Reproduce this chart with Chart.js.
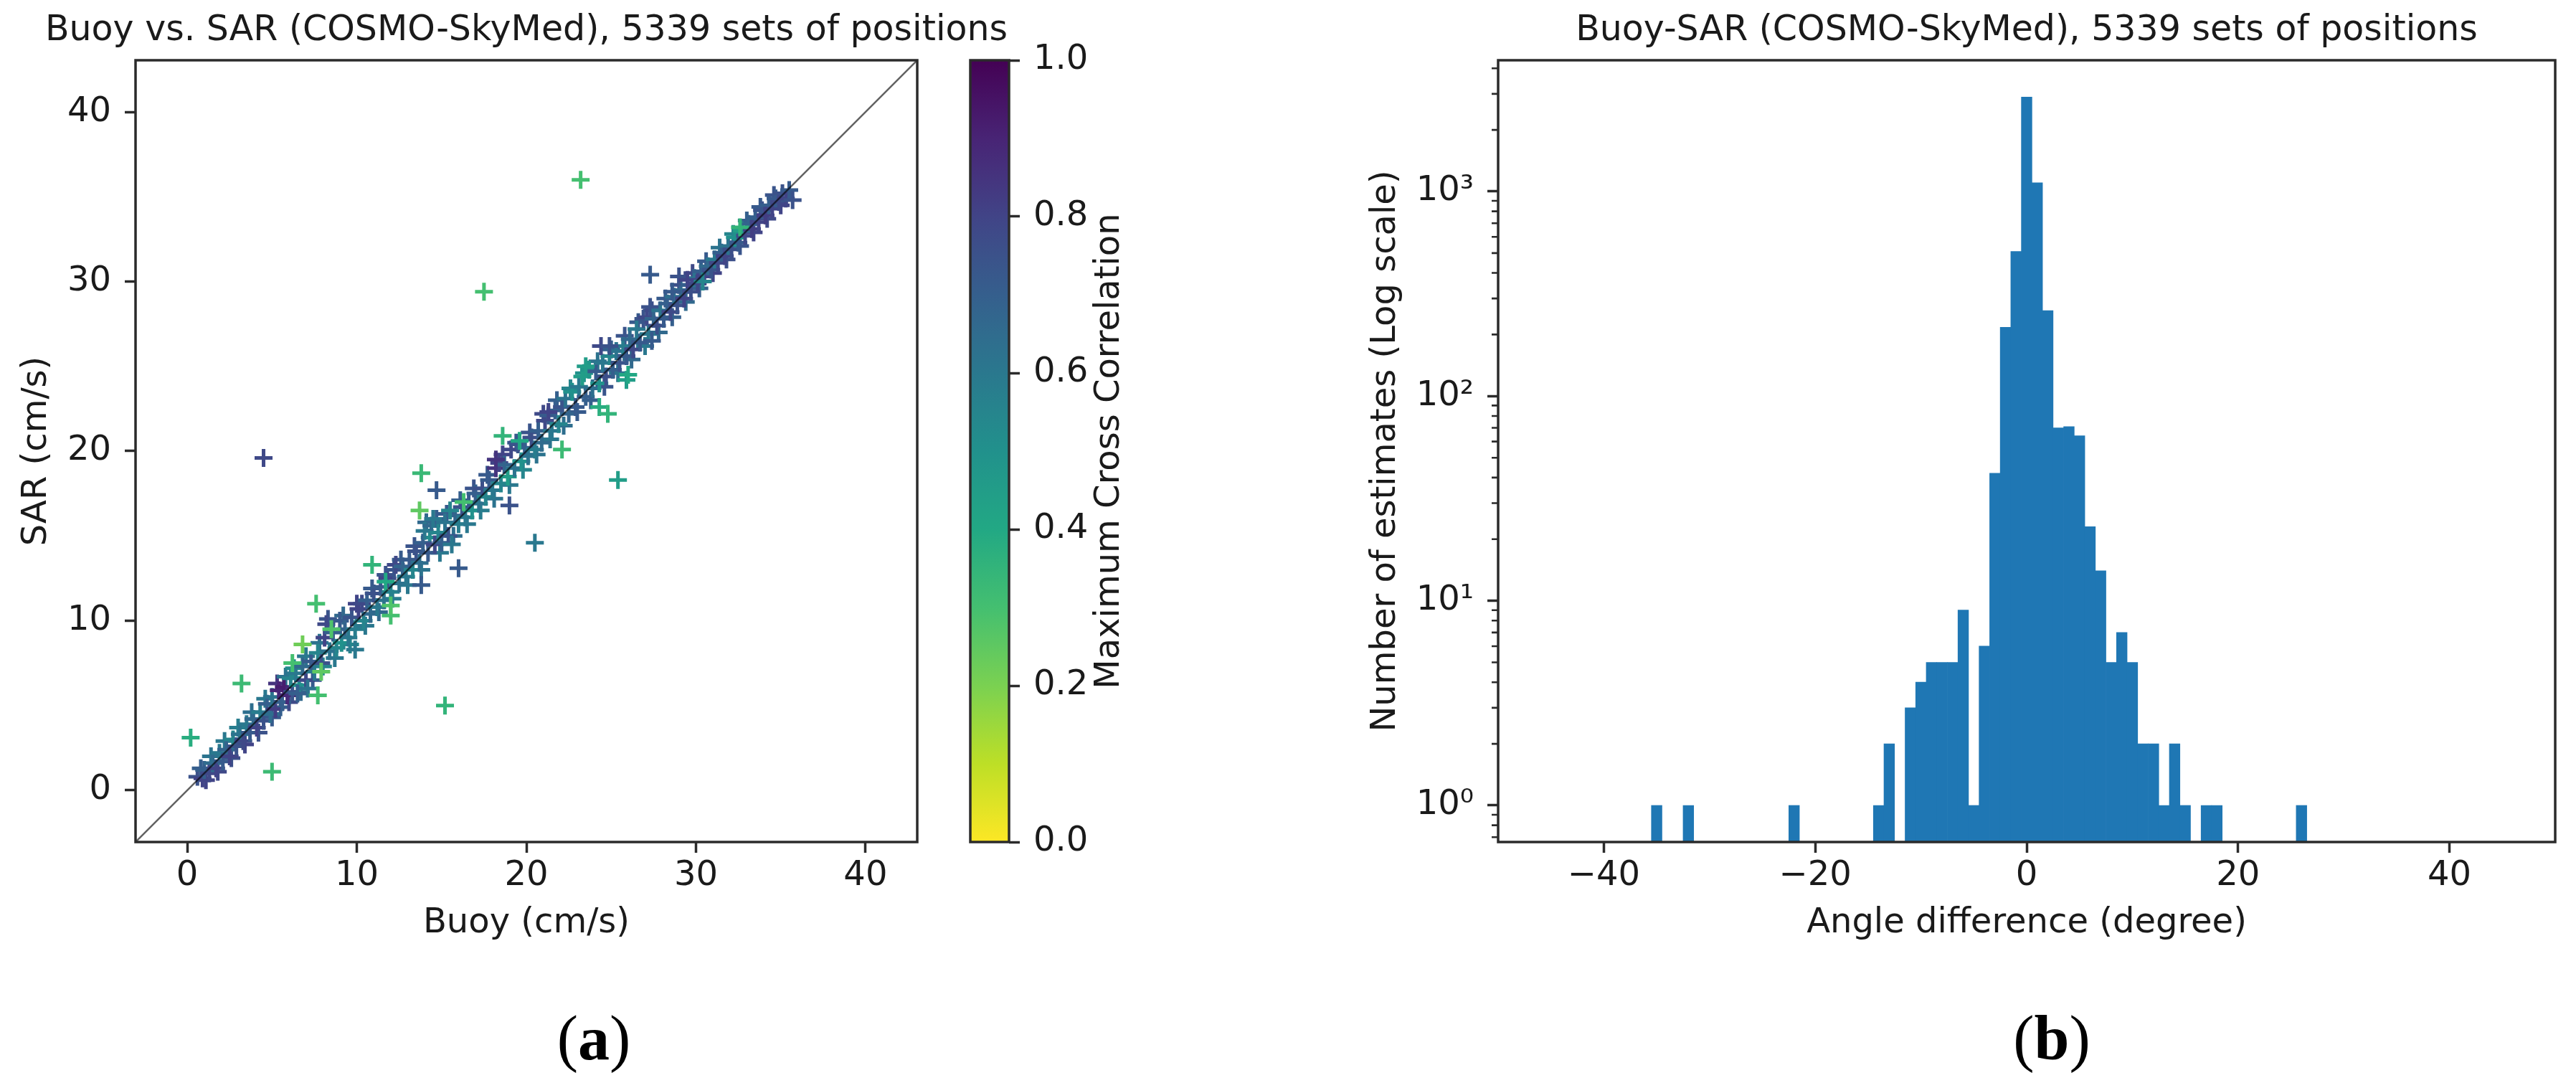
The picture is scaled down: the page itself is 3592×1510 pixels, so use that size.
<!DOCTYPE html>
<html><head><meta charset="utf-8">
<script src="https://cdn.jsdelivr.net/npm/chart.js@4.4.1/dist/chart.umd.min.js"></script>
<style>
html,body{margin:0;padding:0;background:#fff;}
body{width:3592px;height:1510px;position:relative;overflow:hidden;}
canvas{position:absolute;top:0;}
.lab{position:absolute;font-family:'Liberation Serif','Times New Roman',serif;font-size:88px;color:#000;transform:translate(-50%,-50%);line-height:1;white-space:nowrap;}
</style></head><body>
<canvas id="sc" width="1480" height="1510" style="left:0px"></canvas>
<canvas id="cb" width="320" height="1510" style="left:1330px"></canvas>
<canvas id="hi" width="1712" height="1510" style="left:1880px"></canvas>
<div class="lab" style="left:828px;top:1448px">(<b>a</b>)</div>
<div class="lab" style="left:2861px;top:1448px">(<b>b</b>)</div>
<script>
// ---------------- DATA ----------------
// (a) scatter: outer part of the dense band along the 1:1 line (estimated)
const edgeBuoy = [
 0.8,1.1,1.4,1.8,2.2,2.6,3.0,3.4,3.8,4.2,
 4.6,5.0,5.3,5.5,5.8,6.0,6.3,6.7,7.0,7.4,
 7.8,8.0,8.3,8.7,9.2,9.6,10.0,10.5,10.9,11.3,
 11.7,12.1,12.6,13.0,13.4,13.8,14.1,14.3,14.7,14.9,
 15.3,15.7,16.1,16.5,16.9,17.3,17.7,18.1,18.6,19.0,
 19.4,19.8,20.2,20.6,21.0,21.4,21.8,22.2,22.6,23.0,
 23.4,23.8,24.2,24.6,25.0,25.4,25.8,26.2,26.6,27.0,
 27.4,27.8,28.2,28.6,29.0,29.4,29.8,30.2,30.6,31.0,
 31.4,31.8,32.2,32.6,33.0,33.4,33.8,34.2,34.6,35.0];
const edgeSar = [
 1.3,0.6,2.0,1.1,2.9,1.9,3.7,2.7,4.6,3.4,
 5.4,4.3,6.3,4.9,6.7,5.2,7.2,5.8,7.9,6.5,
 8.7,7.3,10.1,7.8,10.3,8.6,11.0,9.7,11.9,10.5,
 12.7,11.3,13.6,12.1,14.4,13.0,15.8,14.9,16.0,14.0,
 16.3,15.0,17.1,15.7,17.8,16.5,18.6,17.2,19.8,18.0,
 20.5,18.9,21.1,19.8,22.2,20.7,23.0,21.5,23.7,22.3,
 24.6,23.0,25.3,23.8,26.0,24.6,26.8,25.4,27.6,26.2,
 28.3,27.0,29.0,27.9,29.8,28.8,30.5,29.6,31.2,30.5,
 32.0,31.3,32.8,32.1,33.6,32.9,34.4,33.7,35.1,34.5];
const edgeCorr = [
 0.7,0.8,0.62,0.78,0.6,0.76,0.58,0.8,0.64,0.75,
 0.6,0.72,0.85,0.7,0.62,0.78,0.52,0.66,0.6,0.72,
 0.62,0.55,0.74,0.6,0.66,0.55,0.8,0.6,0.72,0.66,
 0.75,0.58,0.72,0.6,0.74,0.62,0.66,0.52,0.7,0.6,
 0.72,0.64,0.7,0.6,0.74,0.58,0.72,0.62,0.8,0.6,
 0.72,0.55,0.74,0.62,0.78,0.6,0.7,0.64,0.55,0.72,
 0.5,0.7,0.62,0.74,0.7,0.62,0.74,0.66,0.72,0.6,
 0.76,0.66,0.72,0.7,0.76,0.66,0.78,0.7,0.72,0.8,
 0.62,0.76,0.55,0.74,0.7,0.8,0.72,0.78,0.74,0.8];
// (a) scatter: core of the dense band
const bandBuoy = [
 0.6,0.9,1.0,1.3,1.5,1.7,1.9,2.1,2.3,2.5,
 2.7,2.9,3.1,3.3,3.5,3.7,3.9,4.1,4.3,4.5,
 4.7,4.9,5.0,5.2,5.4,5.6,5.7,5.9,6.1,6.2,
 6.4,6.6,6.8,7.0,7.1,6.5,7.3,7.5,7.7,7.9,
 8.1,8.2,8.4,8.6,8.8,9.0,9.1,9.3,9.5,9.7,
 9.9,10.1,10.3,10.4,10.6,10.8,11.0,11.2,11.4,11.6,
 11.8,12.0,12.2,12.3,12.5,12.7,12.9,13.1,13.3,13.5,
 13.7,13.9,14.0,14.2,14.4,14.6,14.8,15.0,15.2,15.4,
 15.6,15.8,16.0,16.2,16.4,16.6,16.8,17.0,17.2,17.4,
 17.6,17.8,18.0,18.2,18.4,18.5,18.7,18.9,19.1,19.3,
 19.5,19.7,19.9,20.1,20.3,20.5,20.7,20.9,21.1,21.3,
 21.5,21.7,21.9,22.1,22.3,22.5,22.7,22.9,23.1,23.3,
 23.5,23.7,23.9,24.1,24.3,24.5,24.7,24.9,25.1,25.3,
 25.5,25.7,25.9,26.1,26.3,26.5,26.7,26.9,27.1,27.3,
 27.2,27.5,27.7,27.9,28.1,28.3,28.5,28.7,28.9,29.1,
 29.3,29.5,29.7,29.9,30.1,30.3,30.5,30.7,30.9,31.1,
 31.3,31.5,31.7,31.9,32.1,32.3,32.5,32.7,32.9,33.1,
 33.3,33.5,33.7,33.9,34.1,34.3,34.5,34.7,34.9,35.1,
 35.3];
const bandSar = [
 0.8,0.7,1.2,1.0,1.6,1.3,2.2,1.7,2.4,2.0,
 3.0,2.6,3.3,2.9,3.9,3.4,4.2,3.7,4.6,4.1,
 5.1,4.5,5.5,4.8,5.9,5.2,6.1,5.6,6.6,5.8,
 6.9,6.2,7.3,6.5,6.0,5.7,7.6,7.0,8.1,7.5,
 9.0,9.8,8.2,9.3,8.4,10.0,8.7,9.5,9.0,10.2,
 9.5,10.7,11.0,10.0,11.2,10.4,11.6,10.8,12.0,11.2,
 12.5,11.7,13.0,13.3,12.2,13.2,12.6,13.6,13.0,14.1,
 13.4,14.6,15.3,14.0,15.6,14.5,15.2,14.6,15.8,15.0,
 14.5,16.2,15.7,16.7,16.1,17.0,16.5,17.5,16.9,17.8,
 17.3,18.3,17.7,19.0,19.3,18.1,19.2,18.5,20.1,19.0,
 20.4,19.4,20.2,19.7,20.8,20.1,21.2,20.5,21.8,22.1,
 21.2,22.4,21.6,22.6,23.1,22.2,23.5,22.6,23.8,24.4,
 23.2,24.8,23.7,24.7,24.0,25.2,24.4,25.6,24.8,25.9,
 25.2,26.2,25.6,26.6,26.0,27.2,26.4,27.8,27.9,28.5,
 26.9,27.8,27.4,28.3,27.8,28.7,28.2,29.1,28.6,29.5,
 29.0,29.8,29.4,30.2,29.9,30.6,30.3,30.9,30.7,31.3,
 31.1,31.7,31.5,32.1,31.9,32.6,32.3,33.0,32.7,33.4,
 33.1,33.8,33.5,34.2,33.9,34.5,34.3,34.9,34.7,35.2,
 34.9];
const bandCorr = [
 0.75,0.8,0.7,0.78,0.65,0.8,0.6,0.72,0.68,0.8,
 0.55,0.75,0.62,0.78,0.6,0.72,0.66,0.8,0.58,0.75,
 0.7,0.64,0.62,0.82,0.9,0.7,0.92,0.88,0.55,0.74,
 0.6,0.5,0.66,0.78,0.62,0.7,0.72,0.6,0.55,0.75,
 0.8,0.78,0.62,0.7,0.55,0.72,0.5,0.68,0.6,0.74,
 0.58,0.8,0.78,0.55,0.7,0.66,0.75,0.6,0.72,0.62,
 0.8,0.56,0.74,0.78,0.62,0.68,0.6,0.72,0.55,0.75,
 0.64,0.7,0.6,0.72,0.66,0.78,0.55,0.7,0.62,0.74,
 0.6,0.68,0.58,0.75,0.6,0.72,0.5,0.7,0.62,0.76,
 0.55,0.72,0.6,0.85,0.8,0.55,0.68,0.45,0.78,0.62,
 0.74,0.5,0.7,0.62,0.76,0.58,0.7,0.65,0.78,0.72,
 0.6,0.7,0.55,0.74,0.62,0.68,0.5,0.72,0.6,0.45,
 0.7,0.48,0.64,0.72,0.5,0.6,0.76,0.55,0.7,0.62,
 0.74,0.58,0.72,0.66,0.78,0.6,0.72,0.74,0.78,0.75,
 0.6,0.68,0.76,0.62,0.72,0.7,0.78,0.64,0.75,0.66,
 0.8,0.7,0.76,0.62,0.78,0.7,0.8,0.66,0.74,0.6,
 0.78,0.7,0.8,0.62,0.76,0.5,0.72,0.45,0.78,0.68,
 0.82,0.7,0.8,0.74,0.82,0.7,0.8,0.72,0.78,0.75,
 0.8];
// (a) scatter: scattered estimates away from the band
const outBuoy = [
 23.2,17.5,4.5,27.3,29.0,29.5,28.6,24.4,24.9,24.3,
 24.8,25.9,25.4,22.1,18.6,18.2,19.0,20.5,13.8,14.7,
 13.7,16.0,13.8,15.2,10.9,12.0,12.0,7.6,6.8,7.9,
 7.7,3.2,0.2,5.0,35.5,35.7,32.6,21.3,23.5,15.5,
 14.5,9.9,8.5,19.6,6.2,16.3,11.7,27.4,26.0,30.4];
const outSar = [
 36.0,29.4,19.6,30.4,30.3,30.1,29.4,26.2,26.2,22.6,
 22.2,24.2,18.3,20.1,20.9,19.5,16.8,14.6,18.7,17.7,
 16.5,13.1,12.1,5.0,13.3,10.3,10.9,11.0,8.6,7.0,
 5.6,6.3,3.1,1.1,35.4,34.8,33.2,22.3,25.0,16.5,
 16.0,8.3,9.5,20.6,7.5,17.0,12.3,26.5,24.5,30.0];
const outCorr = [
 0.3,0.3,0.78,0.72,0.75,0.8,0.72,0.78,0.75,0.38,
 0.35,0.45,0.45,0.32,0.35,0.85,0.75,0.6,0.33,0.72,
 0.25,0.72,0.72,0.35,0.35,0.3,0.28,0.3,0.22,0.25,
 0.3,0.32,0.38,0.32,0.72,0.75,0.35,0.8,0.45,0.55,
 0.6,0.6,0.28,0.4,0.3,0.3,0.4,0.72,0.4,0.55];
const refLine = [-3.05, 43.05];
const scatterTicks = [0, 10, 20, 30, 40];
const colorbarTicks = [0, 0.2, 0.4, 0.6, 0.8, 1.0];

// (b) histogram of angle differences (1-degree bins, centres in degrees)
const binCenters = [-35,-32,-22,-14,-13,-11,-10,-9,-8,-7,-6,-5,-4,-3,-2,-1,0,1,2,3,4,5,6,7,8,9,10,11,12,13,14,15,17,18,26];
const binCounts  = [1,1,1,1,2,3,4,5,5,5,9,1,6,42,217,509,2892,1103,262,70,71,64,23,14,5,7,5,2,2,1,2,1,1,1,1];
const histXTicks = [-40, -20, 0, 20, 40];
const histYTicks = [1, 10, 100, 1000];
const histYLabels = ['10\u2070', '10\u00B9', '10\u00B2', '10\u00B3'];
const histMinorTicks = [0.7,0.8,0.9,2,3,4,5,6,7,8,9,20,30,40,50,60,70,80,90,200,300,400,500,600,700,800,900,2000,3000,4000];

// ---------------- STYLE ----------------
const VIRIDIS = ['#440154','#482475','#414487','#355f8d','#2a788e','#21918c','#22a884','#44bf70','#7ad151','#bddf26','#fde725'];
function hexRgb(h){return [parseInt(h.slice(1,3),16),parseInt(h.slice(3,5),16),parseInt(h.slice(5,7),16)];}
function viridis(t){
  t = Math.min(1, Math.max(0, t));
  const f = t * (VIRIDIS.length - 1);
  const i = Math.min(VIRIDIS.length - 2, Math.floor(f));
  const r = f - i, a = hexRgb(VIRIDIS[i]), b = hexRgb(VIRIDIS[i+1]);
  return 'rgb(' + a.map((v,k)=>Math.round(v + (b[k]-v)*r)).join(',') + ')';
}
const corrColor = v => viridis(1 - v);   // reversed viridis (1.0 = dark purple)

const TXT = '#1a1a1a', AX = '#2b2b2b';
Chart.defaults.font.family = "'DejaVu Sans', sans-serif";
Chart.defaults.font.size = 48;
Chart.defaults.color = TXT;

const framePlugin = {
  id: 'frame',
  afterDatasetsDraw(chart){
    const {ctx, chartArea: a} = chart;
    ctx.save(); ctx.strokeStyle = AX; ctx.lineWidth = 3.5;
    ctx.strokeRect(a.left, a.top, a.right - a.left, a.bottom - a.top);
    ctx.restore();
  }
};
// panel title centred over the plot area, not squeezed to the plot width
const panelTitlePlugin = {
  id: 'panelTitle',
  afterDraw(chart, args, opts){
    const c = chart.ctx, a = chart.chartArea;
    c.save(); c.font = "49px 'DejaVu Sans', sans-serif"; c.fillStyle = TXT;
    c.textAlign = 'center'; c.textBaseline = 'middle';
    c.fillText(opts.text, (a.left + a.right) / 2, 43); c.restore();
  }
};
const tickGrid = {display: true, drawOnChartArea: false, drawTicks: true, tickLength: 15, tickWidth: 3.5, tickColor: AX, color: AX};
const fixTicks = arr => (s => { s.ticks = arr.map(v => ({value: v})); });
const fmtMinus = v => (v < 0 ? '\u2212' + Math.abs(v) : String(v));

// ---------------- (a) scatter ----------------
const allBuoy = edgeBuoy.concat(bandBuoy, outBuoy);
const allSar = edgeSar.concat(bandSar, outSar);
const allCorr = edgeCorr.concat(bandCorr, outCorr);

new Chart(document.getElementById('sc'), {
  type: 'scatter',
  data: {
    datasets: [
      {type: 'line', data: refLine.map(v => ({x: v, y: v})), borderColor: 'rgba(0,0,0,0.62)', borderWidth: 2.5, pointRadius: 0, fill: false},
      {type: 'scatter', data: allBuoy.map((x, i) => ({x: x, y: allSar[i]})),
       pointStyle: 'cross', pointRadius: 12.5, pointHoverRadius: 12.5, pointBorderWidth: 5,
       pointBorderColor: c => corrColor(allCorr[c.dataIndex]),
       pointBackgroundColor: c => corrColor(allCorr[c.dataIndex])}
    ]
  },
  options: {
    responsive: false, animation: false, devicePixelRatio: 1,
    layout: {padding: {left: 0, right: 201, top: 84, bottom: 0}},
    plugins: {
      legend: {display: false}, tooltip: {enabled: false}, title: {display: false},
      panelTitle: {text: 'Buoy vs. SAR (COSMO-SkyMed), 5339 sets of positions'}
    },
    scales: {
      x: {type: 'linear', min: -3.05, max: 43.05, afterBuildTicks: fixTicks(scatterTicks),
          ticks: {padding: 4, maxRotation: 0, autoSkip: false}, grid: tickGrid, border: {display: false},
          title: {display: true, text: 'Buoy (cm/s)', padding: {top: 0, bottom: 194}},
          afterFit: s => { s.height = 336; }},
      y: {type: 'linear', min: -3.05, max: 43.05, afterBuildTicks: fixTicks(scatterTicks),
          ticks: {padding: 19, autoSkip: false}, grid: tickGrid, border: {display: false},
          title: {display: true, text: 'SAR (cm/s)', padding: {top: 23, bottom: 0}},
          afterFit: s => { s.width = 189; }}
    }
  },
  plugins: [framePlugin, panelTitlePlugin]
});

// ---------------- colorbar ----------------
const cbLabelPlugin = {
  id: 'cbLabel',
  afterDraw(chart){
    const c = chart.ctx, a = chart.chartArea;
    c.save(); c.translate(218, (a.top + a.bottom) / 2); c.rotate(-Math.PI / 2);
    c.font = "48px 'DejaVu Sans', sans-serif"; c.fillStyle = TXT; c.textAlign = 'center'; c.textBaseline = 'middle';
    c.fillText('Maximum Cross Correlation', 0, 0); c.restore();
  }
};
new Chart(document.getElementById('cb'), {
  type: 'bar',
  data: {labels: ['corr'], datasets: [{
    data: [[colorbarTicks[0], colorbarTicks[colorbarTicks.length - 1]]],
    barPercentage: 1, categoryPercentage: 1, borderWidth: 0,
    backgroundColor: c => {
      const ch = c.chart, ys = ch.scales.y;
      if (!ch.chartArea || !ys) return '#21918c';
      const g = ch.ctx.createLinearGradient(0, ys.getPixelForValue(0), 0, ys.getPixelForValue(1));
      for (let i = 0; i <= 20; i++) g.addColorStop(i / 20, corrColor(i / 20));
      return g;
    }
  }]},
  options: {
    responsive: false, animation: false, devicePixelRatio: 1,
    layout: {padding: {left: 23, right: 0, top: 84, bottom: 336}},
    plugins: {legend: {display: false}, tooltip: {enabled: false}},
    scales: {
      x: {display: false},
      y: {position: 'right', min: 0, max: 1, afterBuildTicks: fixTicks(colorbarTicks),
          ticks: {padding: 19, callback: v => v.toFixed(1)}, grid: tickGrid, border: {display: false},
          afterFit: s => { s.width = 243; }}
    }
  },
  plugins: [framePlugin, cbLabelPlugin]
});

// ---------------- (b) histogram ----------------
const minorTickPlugin = {
  id: 'minorTicks',
  afterDraw(chart){
    const y = chart.scales.y, a = chart.chartArea, c = chart.ctx;
    c.save(); c.strokeStyle = AX; c.lineWidth = 2.6; c.beginPath();
    histMinorTicks.forEach(v => { const p = y.getPixelForValue(v); if (p >= a.top - 1 && p <= a.bottom + 1) { c.moveTo(a.left, p); c.lineTo(a.left - 9, p); } });
    c.stroke(); c.restore();
  }
};
new Chart(document.getElementById('hi'), {
  type: 'bar',
  data: {datasets: [{
    data: binCenters.map((x, i) => ({x: x, y: binCounts[i]})),
    backgroundColor: '#1f77b4', borderWidth: 0, barPercentage: 1, categoryPercentage: 1
  }]},
  options: {
    responsive: false, animation: false, devicePixelRatio: 1,
    layout: {padding: {left: 0, right: 29, top: 84, bottom: 0}},
    plugins: {
      legend: {display: false}, tooltip: {enabled: false}, title: {display: false},
      panelTitle: {text: 'Buoy-SAR (COSMO-SkyMed), 5339 sets of positions'}
    },
    scales: {
      x: {type: 'linear', min: -50, max: 50, offset: false, afterBuildTicks: fixTicks(histXTicks),
          ticks: {padding: 4, maxRotation: 0, autoSkip: false, callback: v => fmtMinus(v)},
          grid: Object.assign({}, tickGrid, {offset: false}), border: {display: false},
          title: {display: true, text: 'Angle difference (degree)', padding: {top: 0, bottom: 194}},
          afterFit: s => { s.height = 336; }},
      y: {type: 'logarithmic', min: 0.6625, max: 4378, beginAtZero: false, afterBuildTicks: fixTicks(histYTicks),
          ticks: {padding: 19, autoSkip: false, callback: (v, i) => histYLabels[i]},
          grid: tickGrid, border: {display: false},
          title: {display: true, text: 'Number of estimates (Log scale)', padding: {top: 24, bottom: 0}},
          afterFit: s => { s.width = 209; }}
    }
  },
  plugins: [framePlugin, minorTickPlugin, panelTitlePlugin]
});
</script>
</body></html>
